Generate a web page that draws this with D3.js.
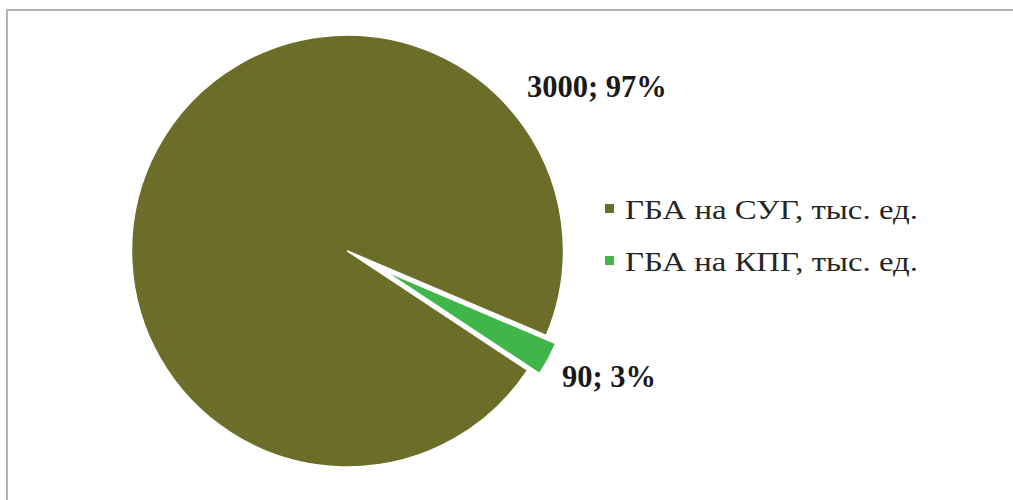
<!DOCTYPE html>
<html>
<head>
<meta charset="utf-8">
<script src="https://cdn.jsdelivr.net/npm/d3@7"></script>
<style>
  html, body { margin: 0; padding: 0; background: #fff; }
  svg { display: block; }
</style>
</head>
<body>
<svg id="chart" width="1013" height="500"></svg>
<script>
// Series data
const categories = ["ГБА на СУГ, тыс. ед.", "ГБА на КПГ, тыс. ед."];
const values = [3000, 90];
const percentLabels = ["97%", "3%"];
const colors = ["#6b6d29", "#3fb54a"];

const FONT = "'Times New Roman', 'Liberation Serif', Tinos, serif";

const svg = d3.select("#chart");

// Frame (top and left edges of the chart area)
svg.append("path")
  .attr("d", "M7,500 L7,10 L1013,10")
  .attr("fill", "none")
  .attr("stroke", "#b4b4b4")
  .attr("stroke-width", 2);

const cx = 347.5, cy = 251;
const radius = 216;
const explodedRadius = 187;
const explodeOffset = 41;

const startDeg = 123.5;
const pie = d3.pie()
  .sort(null)
  .value(d => d)
  .startAngle(startDeg * Math.PI / 180)
  .endAngle((startDeg + 360) * Math.PI / 180);

const arcs = pie(values);

const g = svg.append("g").attr("transform", `translate(${cx},${cy})`);

g.selectAll("path.slice")
  .data(arcs)
  .enter()
  .append("path")
  .attr("class", "slice")
  .attr("transform", (d, i) => {
    if (i === 0) return null;
    const mid = (d.startAngle + d.endAngle) / 2;
    return `translate(${explodeOffset * Math.sin(mid)},${-explodeOffset * Math.cos(mid)})`;
  })
  .attr("d", (d, i) => d3.arc().innerRadius(0).outerRadius(i === 0 ? radius : explodedRadius)(d))
  .attr("fill", (d, i) => colors[i])
  .attr("stroke", "#fff")
  .attr("stroke-width", 1.5)
  .attr("stroke-linejoin", "round");

// Data labels
const labelPos = [[527, 97], [562, 387]];
svg.selectAll("text.dlabel")
  .data(arcs)
  .enter()
  .append("text")
  .attr("class", "dlabel")
  .attr("x", (d, i) => labelPos[i][0])
  .attr("y", (d, i) => labelPos[i][1])
  .attr("font-family", FONT)
  .attr("font-size", 30.5)
  .attr("font-weight", "bold")
  .attr("fill", "#1a1a1a")
  .text((d, i) => `${values[i]}; ${percentLabels[i]}`);

// Legend
const legend = svg.append("g").attr("transform", "translate(605,0)");
const legendY = [219, 271];
const items = legend.selectAll("g.item")
  .data(categories)
  .enter()
  .append("g")
  .attr("class", "item")
  .attr("transform", (d, i) => `translate(0,${legendY[i]})`);

items.append("rect")
  .attr("x", 0)
  .attr("y", -15)
  .attr("width", 9)
  .attr("height", 9)
  .attr("fill", (d, i) => colors[i]);

items.append("text")
  .attr("x", 20)
  .attr("y", 0)
  .attr("font-family", FONT)
  .attr("font-size", 27)
  .attr("fill", "#262626")
  .attr("textLength", 293)
  .attr("lengthAdjust", "spacingAndGlyphs")
  .text(d => d);
</script>
</body>
</html>
